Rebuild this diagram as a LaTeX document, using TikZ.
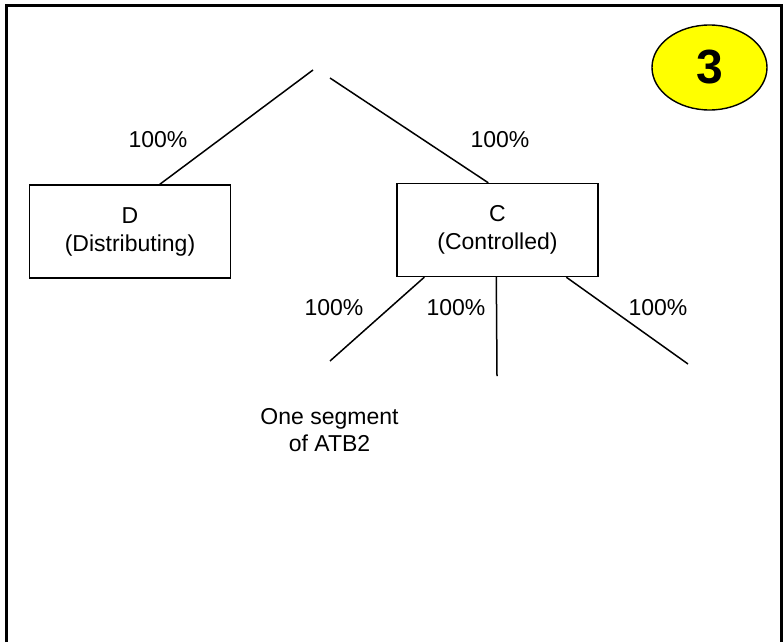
\documentclass[tikz,border=0pt]{standalone}
\usepackage{fontspec}
\setmainfont{Liberation Sans}
\usetikzlibrary{calc,shapes.geometric}
\begin{document}
\begin{tikzpicture}[x=1pt,y=-1pt,
  txt/.style={font=\fontsize{23}{28}\selectfont, inner sep=0pt, align=center},
  boxnode/.style={draw, line width=1.4pt, minimum width=201pt, minimum height=93pt, inner sep=0pt, align=center, font=\fontsize{23}{28}\selectfont},
  link/.style={line width=1.5pt},
  frameline/.style={line width=3pt}]
\useasboundingbox (0,0) rectangle (783,642);
% frame (open at the bottom)
\draw[frameline] (6,642) -- (6,6) -- (781.5,6) -- (781.5,642);
% badge
\node[ellipse, draw, line width=1.4pt, fill={rgb,255:red,255;green,255;blue,0}, minimum width=115pt, minimum height=85pt, inner sep=0pt, font=\fontsize{48}{50}\selectfont\bfseries] (badge) at (709.5,67.5) {3};
% boxes
\node[boxnode] (D) at (130,231.5) {D\\(Distributing)};
\node[boxnode] (C) at (497.5,230) {C\\(Controlled)};
% top free ends
\coordinate (topL) at (313,70);
\coordinate (topR) at (330,78);
\draw[link] (topL) -- ($(D.north west)+(131,0)$);
\draw[link] (topR) -- ($(C.north west)+(92,0)$);
% lower free ends
\coordinate (lowL) at (330,361);
\coordinate (lowM) at (497,376);
\coordinate (lowR) at (688,364);
\draw[link] ($(C.south west)+(28,0)$) -- (lowL);
\draw[link] ($(C.south west)+(100,0)$) -- (lowM);
\draw[link] ($(C.south west)+(170,0)$) -- (lowR);
% labels
\node[txt] (l1) at (158,140) {100\%};
\node[txt] (l2) at (500,140) {100\%};
\node[txt] (l3) at (334,308) {100\%};
\node[txt] (l4) at (456,308) {100\%};
\node[txt] (l5) at (658,308) {100\%};
\node[txt, font=\fontsize{23}{27}\selectfont] (seg) at (329.5,430) {One segment\\of ATB2};
\end{tikzpicture}
\end{document}
